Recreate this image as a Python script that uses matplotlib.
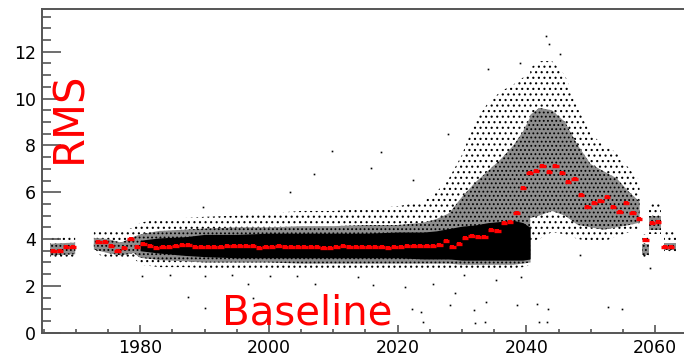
import numpy as np
import matplotlib
matplotlib.use('Agg')
import matplotlib.pyplot as plt
from matplotlib.ticker import MultipleLocator

nan = np.nan

# profile (red): bin centres and mean RMS
prof_x = np.arange(1966.5, 2063, 1.0)
prof_y = [3.47, 3.47, 3.66, 3.66, nan, nan, nan, 3.86, 3.86, 3.72,
          3.47, 3.60, 4.00, 3.66, 3.79, 3.72, 3.60, 3.68, 3.68, 3.72,
          3.75, 3.73, 3.66, 3.66, 3.66, 3.68, 3.68, 3.70, 3.70, 3.72,
          3.72, 3.70, 3.62, 3.64, 3.68, 3.70, 3.68, 3.66, 3.66, 3.66,
          3.68, 3.68, 3.62, 3.60, 3.66, 3.70, 3.68, 3.68, 3.68, 3.66,
          3.66, 3.64, 3.60, 3.64, 3.68, 3.72, 3.72, 3.70, 3.70, 3.70,
          3.74, 3.90, 3.66, 3.78, 4.03, 4.13, 4.08, 4.10, 4.38, 4.36,
          4.70, 4.73, 5.12, 6.20, 6.80, 6.92, 7.10, 6.88, 7.10, 6.80,
          6.42, 6.57, 5.90, 5.36, 5.56, 5.61, 5.79, 5.35, 5.14, 5.52,
          5.10, 4.85, 3.96, 4.70, 4.73, 3.68, 3.68]

# scatter cloud envelope (nan = break)
cloud_x = [1966.0, 1969.9, nan, 1972.8, 1975.0, 1977.0, 1979.0, 1980.0, 1983.0,
           1987.0, 1990.0, 1995.0, 2000.0, 2005.0, 2010.0, 2015.0, 2020.0, 2024.0,
           2026.0, 2028.0, 2030.0, 2032.0, 2034.0, 2036.0, 2038.0, 2039.5, 2040.6,
           2040.6, 2042.0, 2044.0, 2046.0, 2048.0, 2050.0, 2052.0, 2054.0, 2056.0,
           2057.6, nan, 2057.9, 2059.0, nan, 2059.0, 2061.0, nan, 2061.4, 2063.2]
core_lo = [nan, nan, nan, nan, nan, nan, nan, 3.50, 3.40,
           3.30, 3.25, 3.20, 3.20, 3.20, 3.20, 3.20, 3.20, 3.15,
           3.15, 3.15, 3.10, 3.10, 3.10, 3.10, 3.10, 3.10, 3.15,
           nan, nan, nan, nan, nan, nan, nan, nan, nan,
           nan, nan, nan, nan, nan, nan, nan, nan, nan, nan]
core_hi = [nan, nan, nan, nan, nan, nan, nan, 3.95, 4.05,
           4.10, 4.20, 4.20, 4.25, 4.25, 4.25, 4.25, 4.30, 4.30,
           4.35, 4.45, 4.55, 4.60, 4.70, 4.75, 4.80, 4.70, 4.50,
           nan, nan, nan, nan, nan, nan, nan, nan, nan,
           nan, nan, nan, nan, nan, nan, nan, nan, nan, nan]
dense_lo = [3.30, 3.35, nan, 3.55, 3.40, 3.30, 3.40, 3.20, 3.10,
            3.05, 3.00, 3.00, 3.00, 2.95, 2.95, 2.95, 2.95, 2.95,
            2.95, 2.95, 2.90, 2.90, 2.90, 2.90, 2.90, 2.95, 3.00,
            4.90, 5.00, 5.20, 5.00, 4.60, 4.50, 4.40, 4.50, 4.60,
            4.70, nan, 3.30, 3.30, nan, 4.40, 4.40, nan, 3.55, 3.55]
dense_hi = [3.80, 3.85, nan, 4.05, 4.00, 3.85, 4.10, 4.20, 4.35,
            4.40, 4.45, 4.50, 4.50, 4.55, 4.55, 4.60, 4.60, 4.70,
            4.85, 5.10, 5.80, 6.40, 6.90, 7.40, 8.00, 8.60, 9.20,
            9.30, 9.60, 9.50, 9.00, 8.00, 7.20, 6.90, 6.60, 6.00,
            5.60, nan, 3.80, 3.80, nan, 5.00, 5.00, nan, 3.85, 3.85]
sparse_lo = [3.15, 3.20, nan, 3.40, 3.20, 3.10, 3.20, 2.90, 2.80,
             2.80, 2.75, 2.75, 2.75, 2.70, 2.70, 2.70, 2.70, 2.70,
             2.70, 2.70, 2.70, 2.70, 2.70, 2.70, 2.75, 2.80, 2.90,
             3.90, 4.00, 4.30, 4.20, 4.00, 3.90, 3.90, 4.10, 4.30,
             4.40, nan, 3.10, 3.10, nan, 4.20, 4.20, nan, 3.40, 3.40]
sparse_hi = [4.05, 4.10, nan, 4.40, 4.40, 4.30, 4.50, 4.70, 4.85,
             4.90, 4.95, 5.00, 5.10, 5.20, 5.20, 5.30, 5.40, 5.60,
             6.00, 6.60, 7.60, 9.00, 9.80, 10.30, 10.60, 10.90, 11.10,
             11.30, 11.60, 11.60, 11.00, 9.60, 8.50, 8.00, 7.70, 7.00,
             6.50, nan, 4.20, 4.20, nan, 5.50, 5.50, nan, 4.30, 4.30]

# isolated points outside the cloud
out_x = [1980.3, 1984.7, 1987.5, 1990.1, 1990.1, 1989.8, 1994.2, 2000.2, 1996.8,
         2004.3, 2007.2, 1997.6, 2013.9, 2016.2, 2017.3, 2021.1, 2022.2, 2023.6,
         2024.0, 2025.5, 2028.1, 2028.9, 2009.8, 2017.4, 2015.8, 2007.0, 2027.8,
         2022.4, 2003.3, 2033.8, 2033.6, 2032.0, 2031.8, 2038.5, 2041.6, 2041.9,
         2043.2, 2043.4, 2052.7, 2054.8, 2035.3, 2039.2, 2030.3, 2059.2, 2048.4,
         2043.0, 2043.6, 2045.2, 2034.1, 2039.0]
out_y = [2.42, 2.45, 1.54, 2.42, 1.04, 5.38, 2.46, 2.42, 2.10,
         2.42, 2.10, 1.47, 2.40, 2.05, 1.33, 1.96, 1.00, 0.90,
         0.47, 2.08, 1.18, 1.68, 7.76, 7.70, 7.05, 6.78, 8.48,
         6.52, 6.02, 1.33, 0.47, 0.42, 0.97, 1.18, 1.23, 0.47,
         0.47, 1.00, 1.08, 1.00, 2.25, 2.39, 2.46, 2.75, 3.32,
         12.67, 12.35, 11.90, 11.25, 11.50]

x_ticks = [1980, 2000, 2020, 2040, 2060]
y_ticks = [0, 2, 4, 6, 8, 10, 12]

plt.rcParams['hatch.linewidth'] = 0.8

fig = plt.figure(figsize=(6.84, 3.56), dpi=100)
ax = fig.add_axes([0.061, 0.0654, 0.939, 0.909])

cx = np.array(cloud_x)
ax.fill_between(cx, sparse_lo, sparse_hi, facecolor='none', edgecolor='k',
                hatch='...', linewidth=0)
ax.fill_between(cx, dense_lo, dense_hi, facecolor='#8e8e8e', edgecolor='k',
                hatch='....', linewidth=0)
ax.fill_between(cx, core_lo, core_hi, color='k', linewidth=0)

ax.plot(out_x, out_y, 's', color='k', ms=1.2, mew=0)

ax.errorbar(prof_x, prof_y, xerr=0.5, fmt='s', color='red', ms=2.6, mew=0,
            elinewidth=2.4, capsize=0, zorder=5)

ax.set_xlim(1964.7, 2064.5)
ax.set_ylim(0, 13.82)
ax.set_xticks(x_ticks)
ax.set_yticks(y_ticks)
ax.xaxis.set_minor_locator(MultipleLocator(5))
ax.yaxis.set_minor_locator(MultipleLocator(0.5))

axis_col = '#555555'
for s in ['left', 'bottom', 'top']:
    ax.spines[s].set_color(axis_col)
    ax.spines[s].set_linewidth(1.4)
ax.spines['right'].set_visible(False)
ax.tick_params(axis='both', which='both', direction='in', color=axis_col,
               width=1.2, labelsize=12.5, top=False, right=False)
ax.tick_params(axis='y', which='major', length=13.5, pad=4)
ax.tick_params(axis='y', which='minor', length=6.5)
ax.tick_params(axis='x', which='major', length=6, pad=4.5)
ax.tick_params(axis='x', which='minor', length=3)

fig.text(0.1009, 0.670, 'RMS', color='red', fontsize=30, rotation=90,
         ha='center', va='center')
fig.text(0.4484, 0.089, 'Baseline', color='red', fontsize=29,
         ha='center', va='baseline')

fig.savefig('out.png', dpi=100)
